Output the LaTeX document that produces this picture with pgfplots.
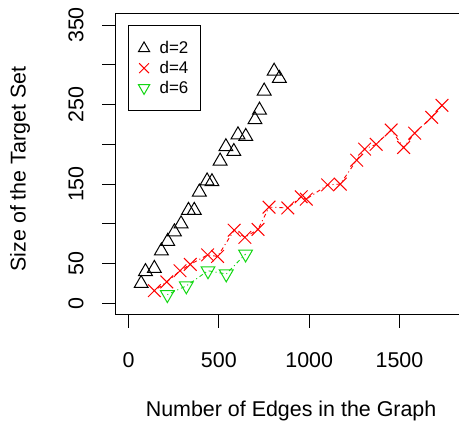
\documentclass[border=0pt]{standalone}
\usepackage{fontspec}
\setmainfont{Liberation Sans}
\usepackage{pgfplots}
\pgfplotsset{compat=1.18}
\usetikzlibrary{calc}
\definecolor{rred}{RGB}{255,0,0}
\definecolor{rgreen}{RGB}{20,215,20}

\begin{document}
\begin{tikzpicture}
\begin{axis}[
  scale only axis, width=351.2bp, height=300.6bp,
  xmin=-72, xmax=1872, ymin=-14, ymax=364,
  axis line style={line width=0.9bp, black},
  tick pos=left, tick align=outside, major tick length=13bp,
  tick style={line width=0.9bp, black},
  xtick={0,500,1000,1500},
  ytick={0,50,...,350},
  yticklabels={0,50,,150,,250,,350},
  /pgf/number format/1000 sep={},
  /pgf/number format/assume math mode=true,
  tick label style={font=\fontsize{21.5}{25}\selectfont},
  xticklabel style={anchor=base}, xticklabel shift=40bp,
  yticklabel style={rotate=90, anchor=base}, yticklabel shift=19bp,
  xlabel={Number of Edges in the Graph},
  ylabel={Size of the Target Set},
  label style={font=\fontsize{21.5}{25}\selectfont},
  xlabel style={at={(axis description cs:0.5,-0.3403)}, anchor=base},
  ylabel style={at={(axis description cs:-0.272,0.4837)}, anchor=center, rotate=0},
  legend cell align=left,
  legend style={at={(rel axis cs:0.0356,0.9627)}, anchor=north west,
    draw=black, line width=0.9bp, font=\fontsize{17}{20}\selectfont,
    inner xsep=10bp, inner ysep=14bp, row sep=2bp,
    /tikz/every odd column/.append style={column sep=8bp}},
]
% d=2
\addplot[black, only marks, mark=triangle, mark size=8, mark options={line width=1bp}, forget plot]
  coordinates {(70,25) (94,40) (143,44) (182,66) (217,78) (254,90) (291,100)
    (332,117) (364,117) (392,140) (435,154) (462,153) (507,179) (539,197)
    (583,191) (606,212) (649,210) (700,231) (725,243) (751,267) (806,292) (835,283)};
% d=4
\addplot[rred, line width=0.9bp, dash pattern=on 1bp off 3bp on 4bp off 3bp,
  mark=x, mark size=9, mark options={solid, line width=1bp}, forget plot]
  coordinates {(143,16) (212,27) (285,41) (342,49) (438,61) (493,59) (585,92)
    (644,83) (717,93) (778,121) (882,120) (956,134) (984,131) (1102,149)
    (1172,150) (1263,180) (1307,194) (1371,200) (1454,218) (1523,196)
    (1584,214) (1678,234) (1735,249)};
% d=6
\addplot[rgreen, line width=0.9bp, dash pattern=on 1bp off 3bp on 4bp off 3bp,
  mark=triangle, mark size=8, mark options={solid, rotate=180, line width=1bp}, forget plot]
  coordinates {(215,11) (320,22) (440,41) (541,37) (648,62)};

\addlegendimage{black, only marks, mark=triangle, mark size=6.5, mark options={line width=1bp}}
\addlegendentry{d=2}
\addlegendimage{rred, only marks, mark=x, mark size=7, mark options={line width=1bp}}
\addlegendentry{d=4}
\addlegendimage{rgreen, only marks, mark=triangle, mark size=6.5, mark options={rotate=180, line width=1bp}}
\addlegendentry{d=6}
\end{axis}
\pgfresetboundingbox
\path ([xshift=-115.5bp,yshift=-110.6bp]current axis.south west)
  rectangle ([xshift=-7.7bp,yshift=13.9bp]current axis.north east);
\end{tikzpicture}
\end{document}
